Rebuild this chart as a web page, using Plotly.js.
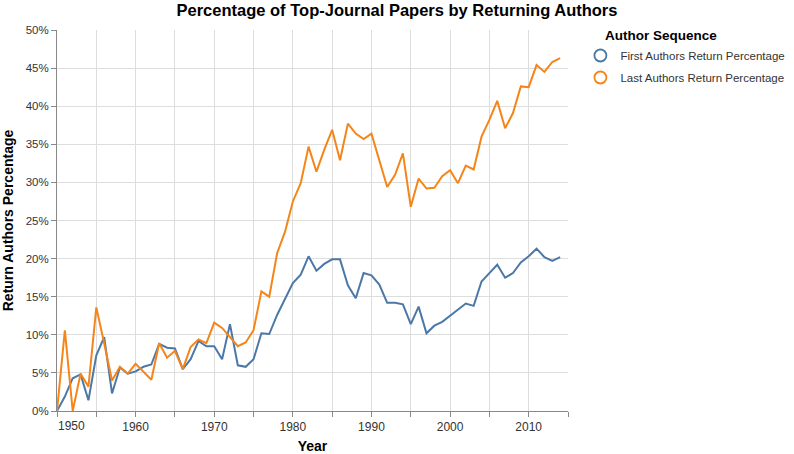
<!DOCTYPE html>
<html>
<head>
<meta charset="utf-8">
<script src="https://cdn.plot.ly/plotly-3.0.1.min.js"></script>
<style>html,body{margin:0;padding:0;background:#fff;}#chart{width:794px;height:454px;}</style>
</head>
<body>
<div id="chart"></div>
<script>
const years = [];
for (let y = 1950; y <= 2014; y++) years.push(y);

const firstAuthors = [
  0.0, 1.9, 4.3, 4.8, 1.4, 7.3, 9.7, 2.3, 5.7, 4.9,
  5.2, 5.8, 6.1, 8.8, 8.3, 8.2, 5.5, 6.8, 9.2, 8.5,
  8.5, 6.8, 11.4, 6.0, 5.8, 6.8, 10.2, 10.1, 12.6, 14.7,
  16.8, 17.9, 20.3, 18.4, 19.3, 19.9, 19.9, 16.5, 14.8, 18.1,
  17.8, 16.6, 14.2, 14.2, 14.0, 11.4, 13.7, 10.2, 11.2, 11.7,
  12.5, 13.3, 14.1, 13.8, 17.0, 18.1, 19.2, 17.5, 18.1, 19.5,
  20.3, 21.3, 20.2, 19.7, 20.2
];

const lastAuthors = [
  0.0, 10.6, 0.0, 4.9, 3.2, 13.6, 8.9, 4.0, 5.8, 4.9,
  6.2, 5.2, 4.1, 8.9, 7.0, 7.9, 5.5, 8.4, 9.4, 8.9,
  11.6, 10.9, 9.7, 8.5, 9.0, 10.6, 15.7, 15.0, 20.7, 23.5,
  27.5, 29.9, 34.7, 31.4, 34.3, 36.9, 32.9, 37.7, 36.4, 35.7,
  36.4, 32.9, 29.4, 31.0, 33.8, 26.8, 30.5, 29.2, 29.3, 30.8,
  31.6, 29.9, 32.2, 31.7, 36.0, 38.2, 40.7, 37.1, 39.1, 42.6,
  42.5, 45.4, 44.5, 45.8, 46.3
];

const seriesNames = ['First Authors Return Percentage', 'Last Authors Return Percentage'];
const colors = ['#4c78a8', '#f58518'];

const xTickVals = [1950,1955,1960,1965,1970,1975,1980,1985,1990,1995,2000,2005,2010,2015];
const xTickText = ['', '', '1960', '', '1970', '', '1980', '', '1990', '', '2000', '', '2010', ''];
const yTickVals = [0,5,10,15,20,25,30,35,40,45,50];
const yTickText = ['0%','5%','10%','15%','20%','25%','30%','35%','40%','45%','50%'];

const FONT = 'Liberation Sans, Helvetica, Arial, sans-serif';

const data = [
  {x: years, y: firstAuthors, type: 'scatter', mode: 'lines', name: seriesNames[0],
   line: {color: colors[0], width: 2}, showlegend: false, hoverinfo: 'skip'},
  {x: years, y: lastAuthors, type: 'scatter', mode: 'lines', name: seriesNames[1],
   line: {color: colors[1], width: 2}, showlegend: false, hoverinfo: 'skip'},
  {x: [null], y: [null], type: 'scatter', mode: 'markers', name: seriesNames[0], legendgroup: 'a',
   marker: {symbol: 'circle-open', size: 12, color: colors[0], line: {width: 1.8, color: colors[0]}}},
  {x: [null], y: [null], type: 'scatter', mode: 'markers', name: seriesNames[1], legendgroup: 'b',
   marker: {symbol: 'circle-open', size: 12, color: colors[1], line: {width: 1.8, color: colors[1]}}}
];

const layout = {
  width: 794, height: 454,
  margin: {l: 57, r: 226, t: 30, b: 43},
  paper_bgcolor: '#fff', plot_bgcolor: '#fff',
  font: {family: FONT, size: 12, color: '#333'},
  title: {text: '<b>Percentage of Top-Journal Papers by Returning Authors</b>',
          font: {family: FONT, size: 16.5, color: '#000'},
          x: 0.5, xref: 'container', xanchor: 'center', y: 0.978, yref: 'container', yanchor: 'middle'},
  xaxis: {
    range: [1950, 2015], tickmode: 'array', tickvals: xTickVals, ticktext: xTickText,
    showgrid: true, gridcolor: '#ddd', gridwidth: 1,
    ticks: 'outside', ticklen: 5, tickcolor: '#888', tickwidth: 1,
    showline: true, linecolor: '#888', linewidth: 1, zeroline: false,
    tickfont: {family: FONT, size: 12, color: '#333'},
    title: {text: '<b>Year</b>', font: {family: FONT, size: 14, color: '#000'}, standoff: 9}
  },
  yaxis: {
    range: [0, 50], tickmode: 'array', tickvals: yTickVals, ticktext: yTickText,
    showgrid: true, gridcolor: '#ddd', gridwidth: 1,
    ticks: 'outside', ticklen: 5, tickcolor: '#888', tickwidth: 1,
    showline: true, linecolor: '#888', linewidth: 1, zeroline: false,
    tickfont: {family: FONT, size: 11.5, color: '#333'},
    title: {text: '<b>Return Authors Percentage</b>', font: {family: FONT, size: 14, color: '#000'}, standoff: 8}
  },
  legend: {
    x: 0.731, xref: 'container', xanchor: 'left', y: 0.9097, yref: 'container', yanchor: 'top',
    font: {family: FONT, size: 11.5, color: '#333'},
    bgcolor: 'rgba(0,0,0,0)', itemwidth: 30, tracegroupgap: 3
  },
  annotations: [
    {text: '1950', x: 1950, xref: 'x', xanchor: 'left', y: 0, yref: 'paper', yanchor: 'top',
     yshift: -6, xshift: -1, showarrow: false, font: {family: FONT, size: 12, color: '#333'}},
    {text: '<b>Author Sequence</b>', x: 603, xref: 'paper', xanchor: 'left', y: 36, yref: 'paper', yanchor: 'middle',
     showarrow: false, font: {family: FONT, size: 13.5, color: '#000'}}
  ],
  showlegend: true
};

// legend title position given in pixels: convert to paper coordinates
(function () {
  const pw = 794 - 57 - 226, ph = 454 - 30 - 43;
  const a = layout.annotations[1];
  a.x = (a.x - 57) / pw;
  a.y = 1 - (a.y - 30) / ph;
})();

Plotly.newPlot('chart', data, layout, {displayModeBar: false, staticPlot: true});
</script>
</body>
</html>
